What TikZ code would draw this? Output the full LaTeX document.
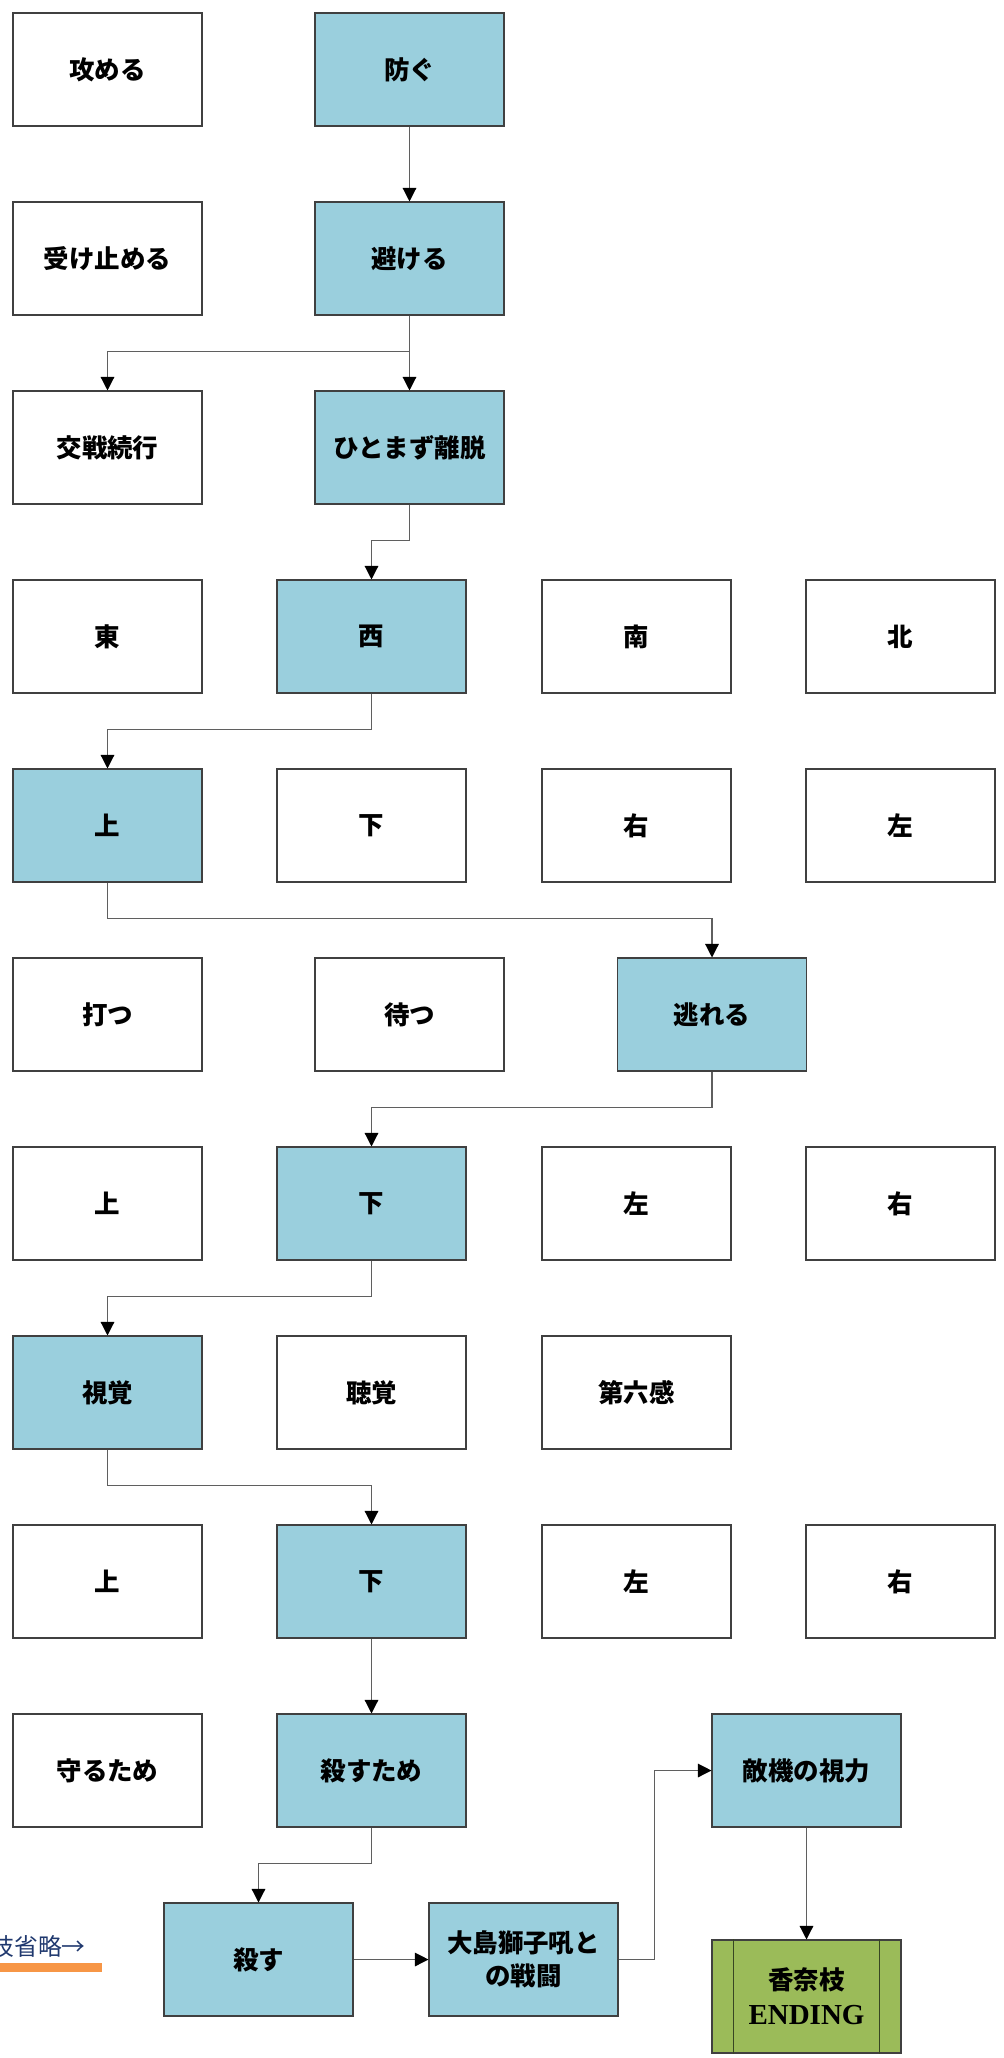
\documentclass[tikz,border=0pt]{standalone}
\usepackage{fontspec}
\setmainfont{Liberation Serif}
\newfontfamily\jpfont{Noto Sans CJK JP}
\usetikzlibrary{arrows.meta}
\definecolor{boxblue}{RGB}{154,207,221}
\definecolor{endgreen}{RGB}{155,187,89}
\definecolor{endline}{RGB}{55,70,35}
\definecolor{linegray}{RGB}{95,95,95}
\definecolor{notenavy}{RGB}{31,56,110}
\definecolor{barorange}{RGB}{247,150,70}
\begin{document}
\begin{tikzpicture}[
  box/.style={draw=black!75,line width=0.6pt,minimum width=3.78cm,minimum height=2.26cm,inner sep=0pt,align=center,font=\jpfont\bfseries\fontsize{14.5}{19}\selectfont},
  sel/.style={box,fill=boxblue},
  endbox/.style={box,fill=endgreen,font=\bfseries\fontsize{16.5}{20}\selectfont},
  conn/.style={draw=linegray,line width=0.7pt,-{Triangle[length=0.27cm,width=0.27cm,color=black]}}
]
\useasboundingbox (0,0) rectangle (20.06,-41.16);
% row 1-3
\node[box] (semeru) at (2.15,-1.39) {攻める};
\node[sel] (fusegu) at (8.19,-1.39) {防ぐ};
\node[box] (uketome) at (2.15,-5.17) {受け止める};
\node[sel] (sakeru) at (8.19,-5.17) {避ける};
\node[box] (kousen) at (2.15,-8.95) {交戦続行};
\node[sel] (ridatsu) at (8.19,-8.95) {ひとまず離脱};
% row 4 - 5
\node[box] (higashi) at (2.15,-12.73) {東};
\node[sel] (nishi) at (7.43,-12.73) {西};
\node[box] (minami) at (12.73,-12.73) {南};
\node[box] (kita) at (18.01,-12.73) {北};
\node[sel] (ueA) at (2.15,-16.51) {上};
\node[box] (shitaA) at (7.43,-16.51) {下};
\node[box] (migiA) at (12.73,-16.51) {右};
\node[box] (hidariA) at (18.01,-16.51) {左};
% row 6
\node[box] (utsu) at (2.15,-20.29) {打つ};
\node[box] (matsu) at (8.19,-20.29) {待つ};
\node[sel] (nogareru) at (14.24,-20.29) {逃れる};
% row 7 - 8
\node[box] (ueB) at (2.15,-24.07) {上};
\node[sel] (shitaB) at (7.43,-24.07) {下};
\node[box] (hidariB) at (12.73,-24.07) {左};
\node[box] (migiB) at (18.01,-24.07) {右};
\node[sel] (shikaku) at (2.15,-27.85) {視覚};
\node[box] (choukaku) at (7.43,-27.85) {聴覚};
\node[box] (dairoku) at (12.73,-27.85) {第六感};
% row 9 - 10
\node[box] (ueC) at (2.15,-31.63) {上};
\node[sel] (shitaC) at (7.43,-31.63) {下};
\node[box] (hidariC) at (12.73,-31.63) {左};
\node[box] (migiC) at (18.01,-31.63) {右};
\node[box] (mamoru) at (2.15,-35.41) {守るため};
\node[sel] (korosutame) at (7.43,-35.41) {殺すため};
\node[sel] (tekki) at (16.13,-35.41) {敵機の視力};
% last row
\node[sel] (korosu) at (5.17,-39.19) {殺す};
\node[sel] (oshima) at (10.47,-39.19) {大島獅子吼と\\の戦闘};
\node[endbox] (ending) at (16.13,-39.93) {{\jpfont\fontsize{14.5}{19}\selectfont 香奈枝}\\ENDING};
\draw[endline,line width=0.7pt] ([xshift=0.44cm]ending.north west) -- ([xshift=0.44cm]ending.south west);
\draw[endline,line width=0.7pt] ([xshift=-0.44cm]ending.north east) -- ([xshift=-0.44cm]ending.south east);
% note
\node[text=notenavy,font=\jpfont\fontsize{13.5}{16}\selectfont,anchor=base east,inner sep=0pt] (note) at (1.72,-39.1) {選択肢省略→};
\fill[barorange] (0,-39.26) rectangle (2.03,-39.44);
% arrows
\draw[conn] (fusegu.south) -- (sakeru.north);
\draw[conn] (sakeru.south) -- (ridatsu.north);
\draw[conn] (sakeru.south) -- ++(0,-0.72) -| (kousen.north);
\draw[conn] (ridatsu.south) -- ++(0,-0.72) -| (nishi.north);
\draw[conn] (nishi.south) -- ++(0,-0.72) -| (ueA.north);
\draw[conn] (ueA.south) -- ++(0,-0.72) -| (nogareru.north);
\draw[conn] (nogareru.south) -- ++(0,-0.72) -| (shitaB.north);
\draw[conn] (shitaB.south) -- ++(0,-0.72) -| (shikaku.north);
\draw[conn] (shikaku.south) -- ++(0,-0.72) -| (shitaC.north);
\draw[conn] (shitaC.south) -- (korosutame.north);
\draw[conn] (korosutame.south) -- ++(0,-0.72) -| (korosu.north);
\draw[conn] (korosu.east) -- (oshima.west);
\draw[conn] (oshima.east) -- ++(0.72,0) |- (tekki.west);
\draw[conn] (tekki.south) -- (ending.north);
\end{tikzpicture}
\end{document}
